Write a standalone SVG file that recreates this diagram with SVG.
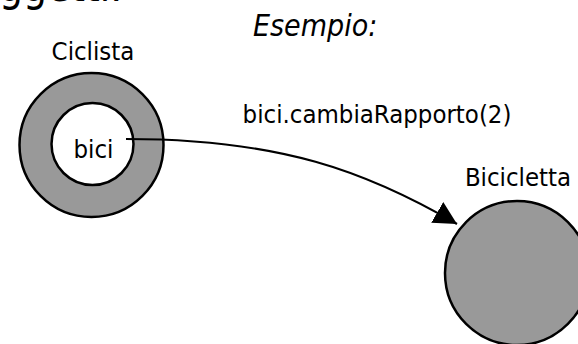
<svg xmlns="http://www.w3.org/2000/svg" width="578" height="344" viewBox="0 0 578 344">
  <style>
    text { font-family: "DejaVu Sans Condensed", "DejaVu Sans", Verdana, sans-serif; fill: #000; }
    .lbl { font-size: 25.5px; }
    .obj { fill: #999999; stroke: #000; stroke-width: 2.5; }
    .inner { fill: #ffffff; stroke: #000; stroke-width: 2.5; }
    .conn { fill: none; stroke: #000; stroke-width: 2.2; }
  </style>
  <defs>
    <marker id="arrow" markerUnits="userSpaceOnUse" markerWidth="24" markerHeight="24" viewBox="0 0 22 22" refX="21" refY="11" orient="auto">
      <path d="M0,0 L21,11 L0,22 Z" fill="#000"/>
    </marker>
  </defs>

  <g id="title">
    <text x="-1" y="1" font-size="42">ggetti.</text>
  </g>
  <g id="example">
    <text x="253" y="36" font-size="30" font-style="italic">Esempio:</text>
  </g>

  <g id="ciclista">
    <circle class="obj" cx="91.5" cy="145" r="72"/>
    <circle class="inner" cx="92.5" cy="144" r="41"/>
    <text class="lbl" x="93" y="60" text-anchor="middle">Ciclista</text>
    <text class="lbl" x="93.5" y="158" text-anchor="middle">bici</text>
  </g>

  <g id="bicicletta">
    <circle class="obj" cx="517" cy="273" r="72"/>
    <text class="lbl" x="518" y="186" text-anchor="middle">Bicicletta</text>
  </g>

  <g id="connectors">
    <path class="conn" d="M126,139 C280,139 367,171.5 457,224" marker-end="url(#arrow)"/>
    <text class="lbl" x="377" y="123" text-anchor="middle">bici.cambiaRapporto(2)</text>
  </g>
</svg>
